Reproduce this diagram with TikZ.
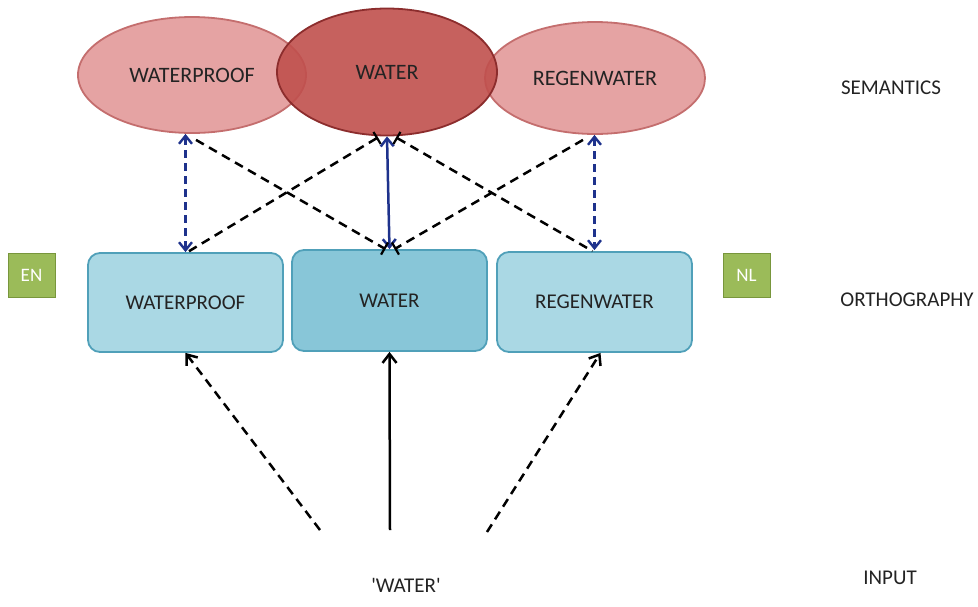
\documentclass[tikz,border=0pt]{standalone}
\usepackage{fontspec}
\setmainfont{Carlito}
\usetikzlibrary{arrows.meta,shapes.geometric}
\definecolor{semlight}{RGB}{229,163,163}
\definecolor{semlightb}{RGB}{196,110,110}
\definecolor{semdark}{RGB}{192,80,77}
\definecolor{semdarkb}{RGB}{140,45,45}
\definecolor{orthlight}{RGB}{170,216,228}
\definecolor{orthdark}{RGB}{136,198,216}
\definecolor{orthb}{RGB}{80,160,185}
\definecolor{langg}{RGB}{155,187,89}
\definecolor{langb}{RGB}{120,150,60}
\definecolor{linkblue}{RGB}{30,50,140}
\definecolor{txt}{RGB}{35,35,35}
\tikzset{
  sem/.style={ellipse, draw=semlightb, line width=1.8pt, fill=semlight, text=txt,
    font=\fontsize{22}{26}\selectfont, inner sep=0pt},
  semd/.style={sem, draw=semdarkb, fill=semdark, fill opacity=0.9, text opacity=1},
  orth/.style={rectangle, rounded corners=12pt, draw=orthb, line width=1.8pt, fill=orthlight,
    text=txt, font=\fontsize{21}{25}\selectfont, minimum width=195pt, inner sep=0pt},
  lang/.style={rectangle, draw=langb, line width=1pt, fill=langg, text=white,
    font=\fontsize{19}{22}\selectfont, minimum width=47pt, minimum height=44pt, inner sep=0pt},
  lvl/.style={text=txt, font=\fontsize{21}{25}\selectfont, inner sep=0pt},
  bluedash/.style={draw=linkblue, line width=2.4pt, dash pattern=on 8pt off 5pt, {Straight Barb[length=8pt,width=13pt]}-{Straight Barb[length=8pt,width=13pt]}},
  bluesolid/.style={draw=linkblue, line width=2.5pt, {Straight Barb[length=8pt,width=13pt]}-{Straight Barb[length=8pt,width=13pt]}},
  blackdash/.style={draw=black, line width=2.5pt, dash pattern=on 9pt off 6pt},
  upsolid/.style={draw=black, line width=2.5pt, -{Straight Barb[length=9pt,width=14pt]}},
  updash/.style={blackdash, -{Straight Barb[length=9pt,width=14pt]}},
  bartip/.tip={Bar[width=14pt,line width=2.2pt]},
}
\begin{document}
\begin{tikzpicture}[x=1pt,y=-1pt]
\useasboundingbox (0,0) rectangle (978,606);
% semantics
\node[sem, minimum width=228pt, minimum height=116pt] (wpS) at (192,75) {WATERPROOF};
\node[sem, minimum width=220pt, minimum height=112pt] (rS) at (595,78) {REGENWATER};
\node[semd, minimum width=220pt, minimum height=127pt] (wS) at (387,72) {WATER};
% orthography
\node[orth, minimum height=99pt] (wpO) at (185.5,302.5) {WATERPROOF};
\node[orth, fill=orthdark, minimum height=101pt] (wO) at (389.5,300.5) {WATER};
\node[orth, minimum height=100pt] (rO) at (594.5,302) {REGENWATER};
% language tags
\node[lang] (en) at (31.5,275) {EN};
\node[lang] (nl) at (746.5,275) {NL};
% level labels
\node[lvl] (lsem) at (891,88) {SEMANTICS};
\node[lvl] (lorth) at (907,300) {ORTHOGRAPHY};
\node[lvl] (linp) at (890,578) {INPUT};
\node[lvl] (inp) at (406,585) {\textquotesingle WATER\textquotesingle};
% input free ends
\coordinate (i1) at (320,530);
\coordinate (i2) at (390,530);
\coordinate (i3) at (487,532);
% blue links
\draw[bluedash] (wpO.north |- wpS.south) -- (wpO.north);
\draw[bluesolid] (wS.south) -- (wO.north);
\draw[bluedash] (rO.north |- rS.south) -- ([yshift=1pt]rO.north);
% cross links
\draw[blackdash, -bartip] ([xshift=4pt,yshift=-6pt]wpS.south) -- ([xshift=-4pt]wO.north);
\draw[blackdash, bartip-] ([xshift=-9pt,yshift=-1pt]wS.south) -- ([xshift=2pt]wpO.north);
\draw[blackdash, bartip-] ([xshift=9pt,yshift=-1pt]wS.south) -- ([xshift=-2pt]rO.north);
\draw[blackdash, -bartip] ([xshift=-12pt,yshift=-5pt]rS.south) -- ([xshift=5pt]wO.north);
% input links
\draw[updash] (i1) -- (wpO.south);
\draw[upsolid] (i2) -- (wO.south);
\draw[updash] (i3) -- ([xshift=6pt]rO.south);
\end{tikzpicture}
\end{document}
